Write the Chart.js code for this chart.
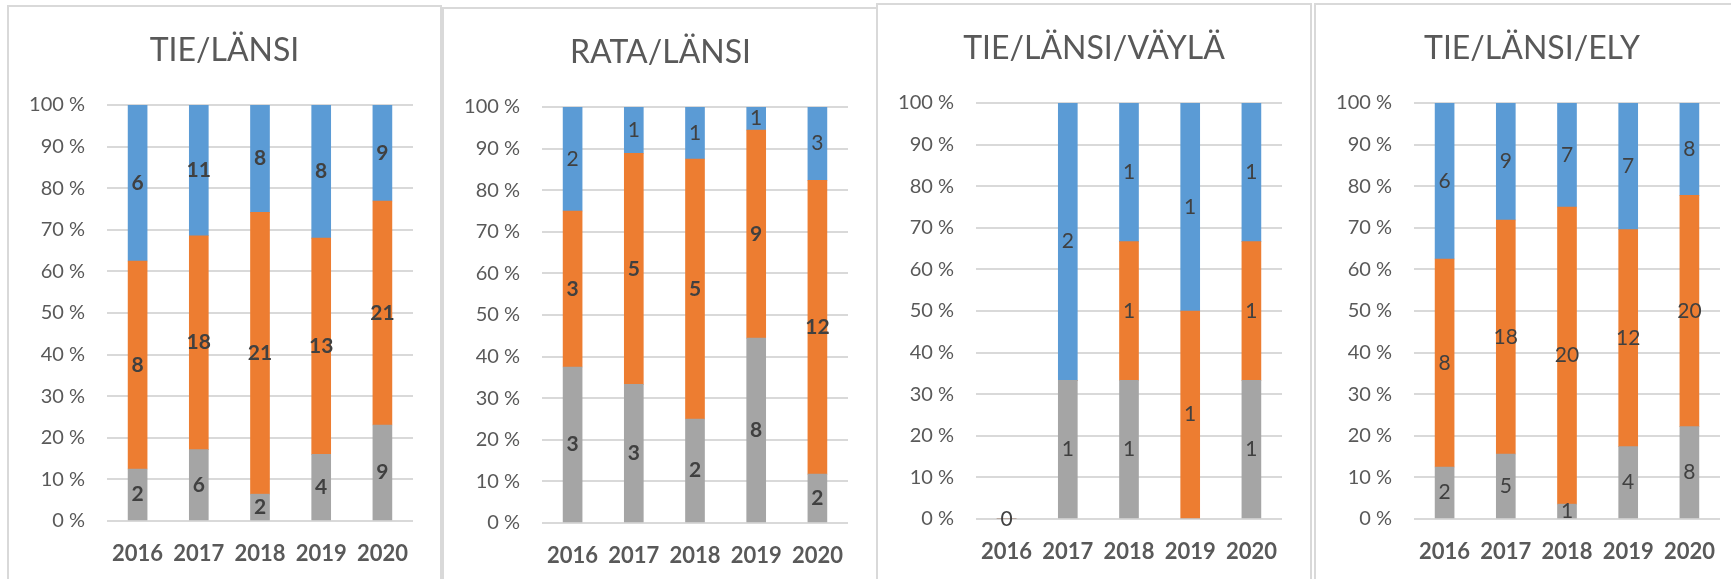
<!DOCTYPE html>
<html>
<head>
<meta charset="utf-8">
<script src="https://cdn.jsdelivr.net/npm/chart.js@4/dist/chart.umd.min.js"></script>
<style>
  html, body { margin: 0; padding: 0; background: #fff; overflow: hidden; }
  body { width: 1731px; height: 579px; position: relative; }
  .panel { position: absolute; box-sizing: border-box; border: 2px solid #d9d9d9; height: 600px; background: #fff; }
  .panel canvas { display: block; }
</style>
</head>
<body>
<div class="panel" style="left:7px;top:5px;width:435px"><canvas id="chart-tie"></canvas></div>
<div class="panel" style="left:442px;top:7px;width:437px"><canvas id="chart-rata"></canvas></div>
<div class="panel" style="left:876px;top:3px;width:436px"><canvas id="chart-vayla"></canvas></div>
<div class="panel" style="left:1314px;top:3px;width:436px"><canvas id="chart-ely"></canvas></div>
<script>
"use strict";

const years = ["2016", "2017", "2018", "2019", "2020"];

// TIE/LÄNSI
const tieGray = [2, 6, 2, 4, 9];
const tieOrange = [8, 18, 21, 13, 21];
const tieBlue = [6, 11, 8, 8, 9];

// RATA/LÄNSI
const rataGray = [3, 3, 2, 8, 2];
const rataOrange = [3, 5, 5, 9, 12];
const rataBlue = [2, 1, 1, 1, 3];

// TIE/LÄNSI/VÄYLÄ
const vaylaGray = [0, 1, 1, 0, 1];
const vaylaOrange = [0, 0, 1, 1, 1];
const vaylaBlue = [0, 2, 1, 1, 1];

// TIE/LÄNSI/ELY
const elyGray = [2, 5, 1, 4, 8];
const elyOrange = [8, 18, 20, 12, 20];
const elyBlue = [6, 9, 7, 7, 8];

const GRAY = "#a5a5a5";
const ORANGE = "#ed7d31";
const BLUE = "#5b9bd5";
const TEXT = "#595959";
const LABEL = "#404040";
const FONT = "Lato, 'Open Sans', sans-serif";

const INNER_HEIGHT = 596;
const AREA_LEFT = 98;
const AREA_RIGHT = 404;
const AREA_TOP = 98;
const AREA_BOTTOM = 514;

// Draws the count in the middle of each segment, like Excel data labels
const segmentLabels = {
  id: "segmentLabels",
  afterDatasetsDraw(chart) {
    const { ctx } = chart;
    const zero = chart.scales.y.getPixelForValue(0);
    ctx.save();
    ctx.textAlign = "center";
    ctx.textBaseline = "middle";
    ctx.fillStyle = LABEL;
    chart.data.datasets.forEach((ds, i) => {
      const meta = chart.getDatasetMeta(i);
      ctx.font = `${ds.labelWeight} 21px ${FONT}`;
      meta.data.forEach((bar, j) => {
        const count = ds.counts[j];
        if (count > 0) {
          ctx.fillText(String(count), bar.x, (bar.y + bar.base) / 2);
        } else if (i === 0 && ds.totals[j] === 0) {
          // empty year: Excel still shows a single 0 on the baseline
          ctx.fillText("0", bar.x, zero);
        }
      });
    });
    ctx.restore();
  },
};

function makeChart(id, title, gray, orange, blue, weights) {
  const canvas = document.getElementById(id);
  const innerWidth = canvas.parentElement.clientWidth;
  canvas.width = innerWidth;
  canvas.height = INNER_HEIGHT;

  const totals = years.map((_, i) => gray[i] + orange[i] + blue[i]);
  const pct = (arr) => arr.map((v, i) => (totals[i] ? (v / totals[i]) * 100 : 0));

  const series = [
    { counts: gray, color: GRAY, weight: weights[0] },
    { counts: orange, color: ORANGE, weight: weights[1] },
    { counts: blue, color: BLUE, weight: weights[2] },
  ];

  new Chart(canvas.getContext("2d"), {
    type: "bar",
    data: {
      labels: years,
      datasets: series.map((s) => ({
        data: pct(s.counts),
        counts: s.counts,
        totals,
        labelWeight: s.weight,
        backgroundColor: s.color,
        borderWidth: 0,
        barThickness: 19,
      })),
    },
    options: {
      responsive: false,
      animation: false,
      layout: { padding: 0 },
      plugins: {
        legend: { display: false },
        tooltip: { enabled: false },
        title: {
          display: true,
          text: title,
          color: TEXT,
          font: { family: FONT, size: 32, weight: "normal", lineHeight: 1.2 },
          padding: { top: 24, bottom: AREA_TOP - 24 - 38.4 },
        },
      },
      scales: {
        x: {
          stacked: true,
          grid: { display: false, drawTicks: false },
          border: { display: false },
          ticks: {
            color: TEXT,
            padding: 20,
            font: { family: FONT, size: 22, weight: "bold" },
          },
          afterFit: (scale) => {
            scale.height = INNER_HEIGHT - AREA_BOTTOM;
          },
        },
        y: {
          stacked: true,
          min: 0,
          max: 100,
          grid: { color: "#d9d9d9", lineWidth: 2, drawTicks: false },
          border: { display: false },
          ticks: {
            stepSize: 10,
            color: TEXT,
            padding: 22,
            font: { family: FONT, size: 20 },
            callback: (v) => `${v} %`,
          },
          afterFit: (scale) => {
            scale.width = AREA_LEFT;
          },
        },
        // empty right-hand spacer so the title stays centred on the panel
        spacer: {
          position: "right",
          grid: { display: false, drawTicks: false },
          border: { display: false },
          ticks: { display: false },
          afterFit: (scale) => {
            scale.width = innerWidth - AREA_RIGHT;
          },
        },
      },
    },
    plugins: [segmentLabels],
  });
}

makeChart("chart-tie", "TIE/LÄNSI", tieGray, tieOrange, tieBlue, ["bold", "bold", "bold"]);
makeChart("chart-rata", "RATA/LÄNSI", rataGray, rataOrange, rataBlue, ["bold", "bold", "normal"]);
makeChart("chart-vayla", "TIE/LÄNSI/VÄYLÄ", vaylaGray, vaylaOrange, vaylaBlue, ["normal", "normal", "normal"]);
makeChart("chart-ely", "TIE/LÄNSI/ELY", elyGray, elyOrange, elyBlue, ["normal", "normal", "normal"]);
</script>
</body>
</html>
